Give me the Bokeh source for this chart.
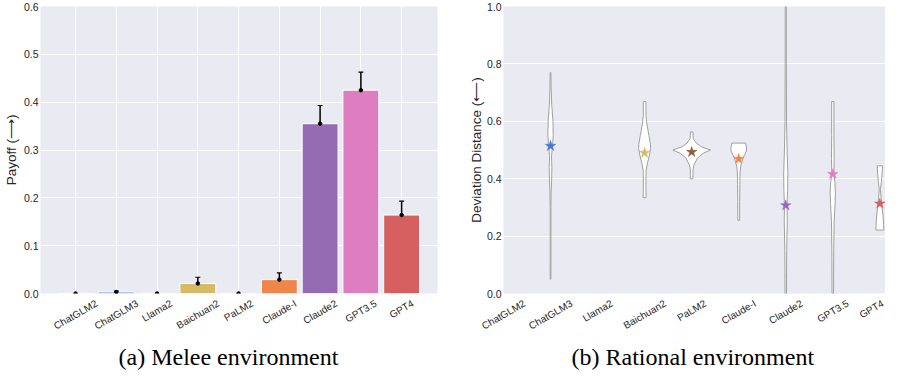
import math
from bokeh.plotting import figure
from bokeh.layouts import row
from bokeh.models import (FixedTicker, Range1d, ColumnDataSource, Whisker, TeeHead,
                          Title, PrintfTickFormatter)
from bokeh.embed import file_html
from bokeh.resources import INLINE

# ---------------- data ----------------
models = ["ChatGLM2", "ChatGLM3", "Llama2", "Baichuan2", "PaLM2",
          "Claude-I", "Claude2", "GPT3.5", "GPT4"]
model_colors = ["#82c6e2", "#4878d0", "#6acc64", "#d5bb67", "#8c613c",
                "#ee854a", "#956cb4", "#dc7ec0", "#d65f5f"]

payoff_mean = [0.0, 0.003, 0.0, 0.021, 0.0, 0.029, 0.355, 0.425, 0.164]
payoff_low = [0.0, 0.002, 0.0, 0.010, 0.0, 0.016, 0.319, 0.388, 0.135]
payoff_high = [0.0, 0.005, 0.0, 0.034, 0.0, 0.043, 0.393, 0.463, 0.193]

payoff_ticks = [0.0, 0.1, 0.2, 0.3, 0.4, 0.5, 0.6]
deviation_ticks = [0.0, 0.2, 0.4, 0.6, 0.8, 1.0]

# violin profiles (levels of deviation distance, relative density)
violin_models = ["ChatGLM3", "Baichuan2", "PaLM2", "Claude-I", "Claude2", "GPT3.5", "GPT4"]
violin_levels = [
    [0.77, 0.72, 0.66, 0.60, 0.55, 0.51, 0.48, 0.44, 0.40, 0.35, 0.30, 0.20, 0.10, 0.05],
    [0.669, 0.62, 0.59, 0.55, 0.52, 0.505, 0.48, 0.455, 0.43, 0.40, 0.36, 0.334],
    [0.563, 0.54, 0.524, 0.511, 0.50, 0.489, 0.472, 0.448, 0.431, 0.40],
    [0.524, 0.51, 0.50, 0.485, 0.472, 0.455, 0.442, 0.42, 0.38, 0.32, 0.255],
    [1.0, 0.8, 0.6, 0.5, 0.42, 0.36, 0.31, 0.25, 0.15, 0.05, 0.0],
    [0.669, 0.55, 0.47, 0.43, 0.415, 0.39, 0.35, 0.31, 0.25, 0.15, 0.0],
    [0.445, 0.42, 0.39, 0.362, 0.33, 0.30, 0.27, 0.24, 0.221],
]
violin_density = [
    [0.02, 0.03, 0.06, 0.13, 0.14, 0.10, 0.05, 0.07, 0.06, 0.03, 0.02, 0.02, 0.02, 0.02],
    [0.07, 0.07, 0.12, 0.23, 0.31, 0.32, 0.25, 0.15, 0.08, 0.07, 0.07, 0.08],
    [0.07, 0.08, 0.25, 0.52, 1.0, 0.62, 0.31, 0.12, 0.07, 0.07],
    [0.37, 0.41, 0.42, 0.33, 0.23, 0.15, 0.10, 0.07, 0.06, 0.05, 0.05],
    [0.03, 0.03, 0.04, 0.07, 0.11, 0.10, 0.07, 0.08, 0.05, 0.04, 0.04],
    [0.06, 0.06, 0.07, 0.06, 0.05, 0.11, 0.14, 0.12, 0.07, 0.05, 0.04],
    [0.14, 0.12, 0.08, 0.03, 0.07, 0.12, 0.17, 0.20, 0.21],
]
star_values = [0.514, 0.490, 0.493, 0.469, 0.307, 0.416, 0.313]

# ---------------- style ----------------
BG = "#eaeaf2"
TXT = "#262626"
SANS = "Liberation Sans"
SERIF = "Liberation Serif"
H = 372
BORDER_BOTTOM = 79
XLAB_PX = 10
ANGLE = math.pi / 6

positions = list(range(len(models)))
pos_of = {m: i for i, m in enumerate(models)}

# Arial / Liberation Sans advance widths (per 1000 em), used to centre the
# rotated category labels under their ticks (Bokeh anchors them at their end)
ADV = {"C": 722, "h": 556, "a": 556, "t": 278, "G": 778, "L": 556, "M": 833,
       "l": 222, "m": 833, "B": 667, "i": 222, "c": 500, "u": 556, "n": 556,
       "P": 667, "d": 556, "e": 556, "-": 333, "I": 278, "T": 611, ".": 278}


def text_w(s):
    return sum(ADV.get(ch, 556) for ch in s) / 1000.0 * XLAB_PX


def style(p, ylabel, yticks, vgrid, px_per_unit, xmax):
    p.background_fill_color = BG
    p.border_fill_color = "white"
    p.outline_line_color = None
    p.xgrid.visible = vgrid
    p.xgrid.ticker = FixedTicker(ticks=positions)
    p.xgrid.grid_line_color = "white"
    p.xgrid.grid_line_width = 1
    p.ygrid.grid_line_color = "white"
    p.ygrid.grid_line_width = 1
    for ax in (p.xaxis[0], p.yaxis[0]):
        ax.axis_line_color = None
        ax.major_tick_line_color = None
        ax.minor_tick_line_color = None
        ax.major_tick_out = 0
        ax.major_tick_in = 0
        ax.minor_tick_out = 0
        ax.minor_tick_in = 0
        ax.major_label_text_font = SANS
        ax.major_label_text_color = TXT
    # x: category labels, shifted so that each rotated label is centred on its category
    shifted = [round(min(i + 0.433 * text_w(m) / px_per_unit, xmax - 0.002), 4)
               for i, m in enumerate(models)]
    xa = p.xaxis[0]
    xa.axis_label = None
    xa.ticker = FixedTicker(ticks=shifted)
    xa.major_label_overrides = {t: m for t, m in zip(shifted, models)}
    xa.major_label_orientation = ANGLE
    xa.major_label_text_font_size = f"{XLAB_PX}px"
    xa.major_label_standoff = 9
    ya = p.yaxis[0]
    ya.major_label_text_font_size = "10.5px"
    ya.ticker = FixedTicker(ticks=yticks)
    ya.formatter = PrintfTickFormatter(format="%.1f")
    ya.axis_label = ylabel
    ya.axis_label_text_font = SANS
    ya.axis_label_text_font_size = "13.5px"
    ya.axis_label_text_font_style = "normal"
    ya.axis_label_text_color = TXT


def caption(p, text, offset):
    p.add_layout(Title(text=text, align="left", offset=offset,
                       text_font=SERIF, text_font_size="24px", text_font_style="normal",
                       text_color="black", standoff=5), "below")


# ---------------- left: bar chart ----------------
L_W, L_BL, L_BR = 442, 40, 5
L_X = (-0.86, 8.88)
p1 = figure(width=L_W, height=H, output_backend="svg", toolbar_location=None,
            x_range=Range1d(*L_X), y_range=Range1d(0, 0.6),
            min_border_left=L_BL, min_border_right=L_BR, min_border_top=6,
            min_border_bottom=BORDER_BOTTOM)
style(p1, "Payoff (⟶)", payoff_ticks, True,
      (L_W - L_BL - L_BR) / (L_X[1] - L_X[0]), L_X[1])
p1.yaxis.major_label_standoff = 2
p1.yaxis.axis_label_standoff = 2

p1.vbar(x=positions, top=payoff_mean, width=0.88, fill_color=model_colors,
        line_color="white", line_width=1)

err_idx = [i for i in positions if payoff_high[i] > payoff_low[i]]
err_src = ColumnDataSource(dict(x=[positions[i] for i in err_idx],
                                lo=[payoff_low[i] for i in err_idx],
                                hi=[payoff_high[i] for i in err_idx]))
wh = Whisker(base="x", lower="lo", upper="hi", source=err_src, dimension="height",
             line_color="black", line_width=1.5,
             upper_head=TeeHead(size=5, line_color="black", line_width=1.2),
             lower_head=TeeHead(size=5, line_color="black", line_width=1.2))
p1.add_layout(wh)
p1.scatter(x=positions, y=payoff_mean, size=3.5, color="black")
caption(p1, "(a) Melee environment", 78)

# ---------------- right: violins ----------------
R_W, R_BL, R_BR = 443, 61, 0
R_X = (0, 8.12)
p2 = figure(width=R_W, height=H, output_backend="svg", toolbar_location=None,
            x_range=Range1d(*R_X), y_range=Range1d(0, 1.0),
            min_border_left=R_BL, min_border_right=R_BR, min_border_top=6,
            min_border_bottom=BORDER_BOTTOM)
style(p2, "Deviation Distance (⟵)", deviation_ticks, False,
      (R_W - R_BL - R_BR) / (R_X[1] - R_X[0]), R_X[1])
p2.yaxis.major_label_standoff = 2
p2.yaxis.axis_label_standoff = 0

HALF = 0.4  # half-width (category units) for relative density 1.0
vx, vy = [], []
for m, lv, dn in zip(violin_models, violin_levels, violin_density):
    c = pos_of[m]
    right = [c + d * HALF for d in dn]
    left = [c - d * HALF for d in dn]
    vx.append(right + left[::-1])
    vy.append(lv + lv[::-1])
p2.patches(vx, vy, fill_color="white", line_color="#a0a0a0", line_width=1)

p2.scatter(x=[pos_of[m] for m in violin_models], y=star_values, marker="star",
           size=11, fill_color=[model_colors[pos_of[m]] for m in violin_models],
           line_color=[model_colors[pos_of[m]] for m in violin_models], line_width=0.5)
caption(p2, "(b) Rational environment", 68)

layout = row(p1, p2, spacing=0)
open("out.html", "w").write(file_html(layout, INLINE))
